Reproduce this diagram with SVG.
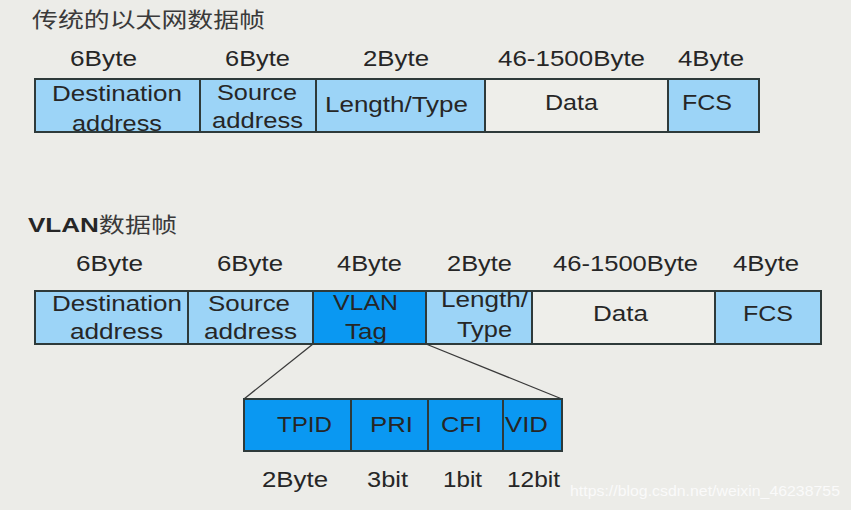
<svg xmlns="http://www.w3.org/2000/svg" width="851" height="510" viewBox="0 0 851 510">
<style>
.bg{fill:#ECECE8}
.lb{fill:#9CD4F7;stroke:#2E3A3A;stroke-width:2}
.db{fill:#0A98F2;stroke:#2E3A3A;stroke-width:2}
.wb{fill:#EEEEEA;stroke:#2E3A3A;stroke-width:2}
text{font-family:"Liberation Sans",Arial,"Noto Sans CJK SC",sans-serif;font-size:22px;fill:#262626}
.t{fill:#3A3A3A}
.wm{font-size:15px;fill:#FAFAFA}
.ln{stroke:#3A3A3A;stroke-width:1.3;fill:none}
</style>
<rect class="bg" width="851" height="510"/>

<g id="title1"><text class="t" x="32" y="27" textLength="233" lengthAdjust="spacingAndGlyphs" style="font-family:'Noto Sans CJK SC',sans-serif;font-size:21px">传统的以太网数据帧</text></g>

<g id="labels1">
<text x="70" y="66" textLength="67" lengthAdjust="spacingAndGlyphs">6Byte</text>
<text x="225" y="66" textLength="65" lengthAdjust="spacingAndGlyphs">6Byte</text>
<text x="363" y="66" textLength="66" lengthAdjust="spacingAndGlyphs">2Byte</text>
<text x="498" y="66" textLength="147" lengthAdjust="spacingAndGlyphs">46-1500Byte</text>
<text x="678" y="66" textLength="66" lengthAdjust="spacingAndGlyphs">4Byte</text>
</g>

<g id="f1-dest"><rect class="lb" x="35" y="79" width="165" height="53"/>
<text x="52" y="101" textLength="130" lengthAdjust="spacingAndGlyphs">Destination</text>
<text x="72" y="131" textLength="90" lengthAdjust="spacingAndGlyphs">address</text></g>
<g id="f1-src"><rect class="lb" x="200" y="79" width="116" height="53"/>
<text x="217" y="100" textLength="80" lengthAdjust="spacingAndGlyphs">Source</text>
<text x="212" y="128" textLength="91" lengthAdjust="spacingAndGlyphs">address</text></g>
<g id="f1-len"><rect class="lb" x="316" y="79" width="169" height="53"/>
<text x="325" y="112" textLength="143" lengthAdjust="spacingAndGlyphs">Length/Type</text></g>
<g id="f1-data"><rect class="wb" x="485" y="79" width="183" height="53"/>
<text x="545" y="110" textLength="53" lengthAdjust="spacingAndGlyphs">Data</text></g>
<g id="f1-fcs"><rect class="lb" x="668" y="79" width="91" height="53"/>
<text x="682" y="110" textLength="50" lengthAdjust="spacingAndGlyphs">FCS</text></g>

<g id="title2"><text x="28" y="232" textLength="149" lengthAdjust="spacingAndGlyphs" style="font-family:'Liberation Sans','Noto Sans CJK SC',sans-serif;font-size:21px"><tspan style="font-weight:bold">VLAN</tspan><tspan class="t" style="font-family:'Noto Sans CJK SC',sans-serif">数据帧</tspan></text></g>

<g id="labels2">
<text x="76" y="271" textLength="67" lengthAdjust="spacingAndGlyphs">6Byte</text>
<text x="217" y="271" textLength="66" lengthAdjust="spacingAndGlyphs">6Byte</text>
<text x="337" y="271" textLength="65" lengthAdjust="spacingAndGlyphs">4Byte</text>
<text x="447" y="271" textLength="65" lengthAdjust="spacingAndGlyphs">2Byte</text>
<text x="553" y="271" textLength="145" lengthAdjust="spacingAndGlyphs">46-1500Byte</text>
<text x="733" y="271" textLength="66" lengthAdjust="spacingAndGlyphs">4Byte</text>
</g>

<g id="connectors">
<line class="ln" x1="313" y1="344" x2="244" y2="399"/>
<line class="ln" x1="426" y1="344" x2="562" y2="399"/>
</g>

<g id="f2-dest"><rect class="lb" x="35" y="291" width="153" height="53"/>
<text x="52" y="311" textLength="130" lengthAdjust="spacingAndGlyphs">Destination</text>
<text x="70" y="339" textLength="93" lengthAdjust="spacingAndGlyphs">address</text></g>
<g id="f2-src"><rect class="lb" x="188" y="291" width="125" height="53"/>
<text x="208" y="311" textLength="82" lengthAdjust="spacingAndGlyphs">Source</text>
<text x="204" y="339" textLength="93" lengthAdjust="spacingAndGlyphs">address</text></g>
<g id="f2-tag"><rect class="db" x="313" y="291" width="113" height="53"/>
<text x="333" y="310" textLength="65" lengthAdjust="spacingAndGlyphs">VLAN</text>
<text x="345" y="339" textLength="42" lengthAdjust="spacingAndGlyphs">Tag</text></g>
<g id="f2-len"><rect class="lb" x="426" y="291" width="106" height="53"/>
<text x="441" y="307" textLength="87" lengthAdjust="spacingAndGlyphs">Length/</text>
<text x="457" y="337" textLength="55" lengthAdjust="spacingAndGlyphs">Type</text></g>
<g id="f2-data"><rect class="wb" x="532" y="291" width="183" height="53"/>
<text x="593" y="321" textLength="55" lengthAdjust="spacingAndGlyphs">Data</text></g>
<g id="f2-fcs"><rect class="lb" x="715" y="291" width="106" height="53"/>
<text x="743" y="321" textLength="50" lengthAdjust="spacingAndGlyphs">FCS</text></g>

<g id="t-tpid"><rect class="db" x="244" y="399" width="107" height="52"/>
<text x="277" y="432" textLength="55" lengthAdjust="spacingAndGlyphs">TPID</text></g>
<g id="t-pri"><rect class="db" x="351" y="399" width="77" height="52"/>
<text x="370" y="432" textLength="43" lengthAdjust="spacingAndGlyphs">PRI</text></g>
<g id="t-cfi"><rect class="db" x="428" y="399" width="75" height="52"/>
<text x="441" y="432" textLength="41" lengthAdjust="spacingAndGlyphs">CFI</text></g>
<g id="t-vid"><rect class="db" x="503" y="399" width="59" height="52"/>
<text x="505" y="432" textLength="43" lengthAdjust="spacingAndGlyphs">VID</text></g>

<g id="labels3">
<text x="262" y="487" textLength="66" lengthAdjust="spacingAndGlyphs">2Byte</text>
<text x="367" y="487" textLength="41" lengthAdjust="spacingAndGlyphs">3bit</text>
<text x="443" y="487" textLength="39" lengthAdjust="spacingAndGlyphs">1bit</text>
<text x="507" y="487" textLength="53" lengthAdjust="spacingAndGlyphs">12bit</text>
</g>

<text class="wm" x="570" y="496" textLength="270" lengthAdjust="spacingAndGlyphs">https://blog.csdn.net/weixin_46238755</text>
</svg>
